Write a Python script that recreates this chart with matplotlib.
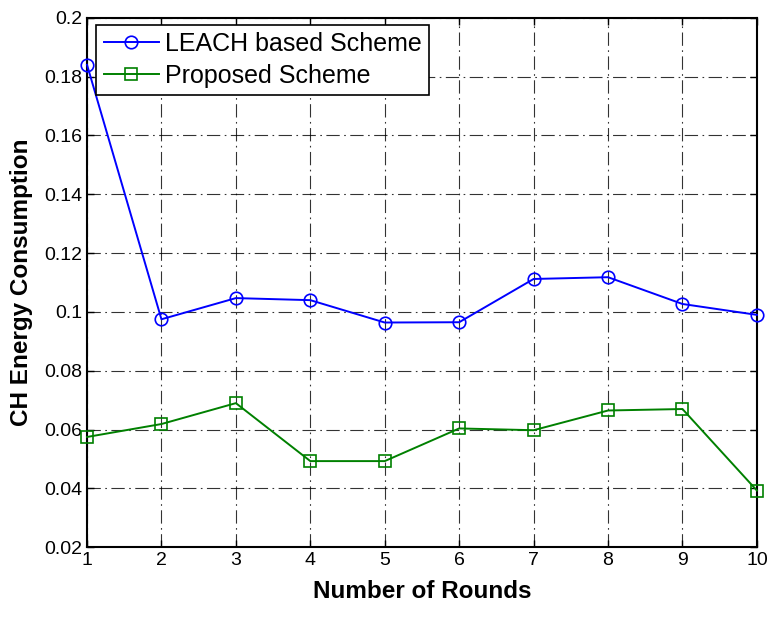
import numpy as np
import matplotlib
matplotlib.use('Agg')
import matplotlib.pyplot as plt

plt.rcParams['font.family'] = ['Liberation Sans', 'DejaVu Sans']

# data
rounds = [1, 2, 3, 4, 5, 6, 7, 8, 9, 10]
leach = [0.1840, 0.0975, 0.1047, 0.1040, 0.0964, 0.0965, 0.1112, 0.1118, 0.1027, 0.0990]
proposed = [0.0575, 0.0619, 0.0690, 0.0493, 0.0493, 0.0604, 0.0598, 0.0665, 0.0670, 0.0393]
yticks = [0.02, 0.04, 0.06, 0.08, 0.1, 0.12, 0.14, 0.16, 0.18, 0.2]
ytick_labels = ['0.02', '0.04', '0.06', '0.08', '0.1', '0.12', '0.14', '0.16', '0.18', '0.2']

fig = plt.figure(figsize=(7.7, 6.32), dpi=100)
ax = fig.add_axes([0.113, 0.134, 0.870, 0.838])

ax.plot(rounds, leach, color='#0000ff', marker='o', markersize=9, markerfacecolor='none',
        markeredgewidth=1.2, linewidth=1.4, label='LEACH based Scheme', clip_on=False, zorder=3)
ax.plot(rounds, proposed, color='#008000', marker='s', markersize=8.5, markerfacecolor='none',
        markeredgewidth=1.2, linewidth=1.4, label='Proposed Scheme', clip_on=False, zorder=3)

ax.set_xlim(1, 10)
ax.set_ylim(0.02, 0.2)
ax.set_xticks(rounds)
ax.set_yticks(yticks)
ax.set_yticklabels(ytick_labels)
ax.tick_params(direction='in', top=True, right=True, labelsize=14, length=5, width=1)
ax.grid(True, color='black', linestyle=(0, (12, 4, 1.5, 4)), linewidth=0.8, alpha=0.8)
for s in ax.spines.values():
    s.set_linewidth(1.5)

ax.set_xlabel('Number of Rounds', fontsize=17.5, fontweight='bold', labelpad=8)
ax.set_ylabel('CH Energy Consumption', fontsize=17.5, fontweight='bold', labelpad=8)

leg = ax.legend(loc='upper left', fontsize=18, frameon=True, fancybox=False,
                edgecolor='black', framealpha=1, borderpad=0.3, labelspacing=0.3,
                handlelength=2.2, handletextpad=0.25, borderaxespad=0,
                bbox_to_anchor=(0.014, 0.987))
leg.get_frame().set_linewidth(1.2)

plt.savefig('out.png', dpi=100)
